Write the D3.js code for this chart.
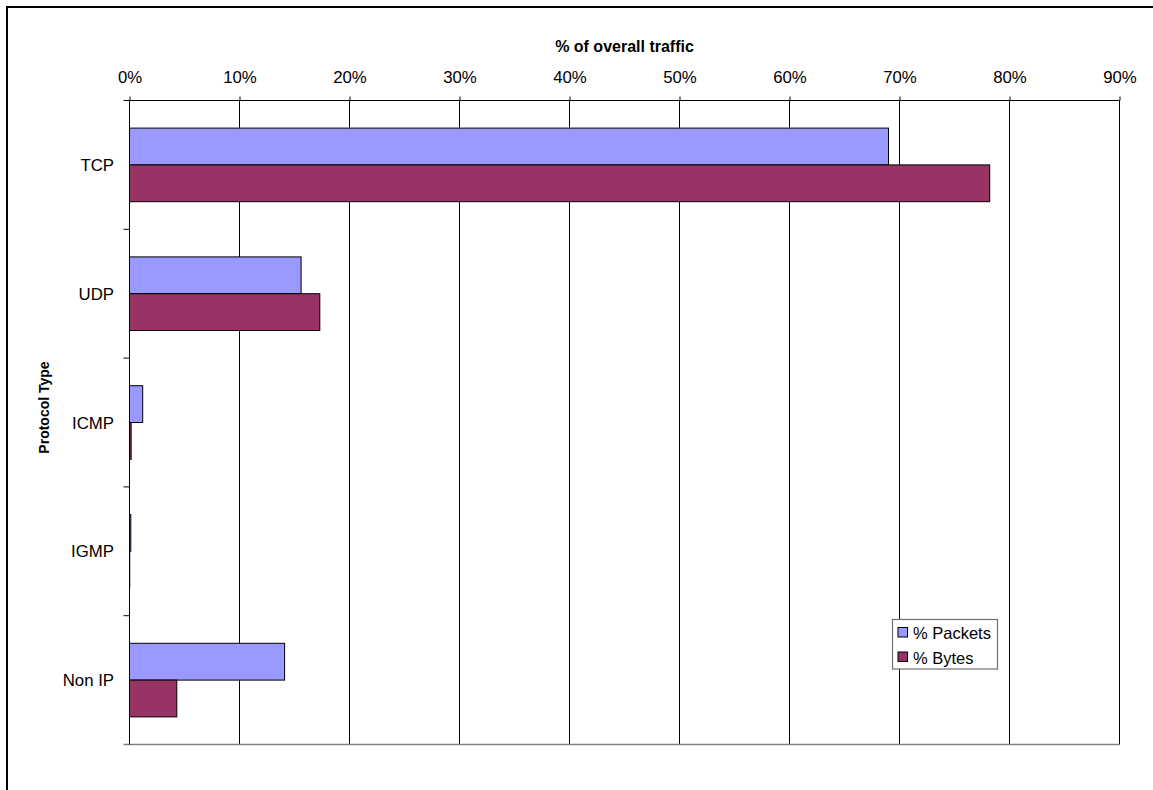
<!DOCTYPE html>
<html>
<head>
<meta charset="utf-8">
<script src="https://cdn.jsdelivr.net/npm/d3@7"></script>
<style>
  html, body { margin: 0; padding: 0; background: #fff; }
  svg { display: block; font-family: "Liberation Sans", Arial, sans-serif; }
</style>
</head>
<body>
<svg id="chart" width="1153" height="790"></svg>
<script>
// Share of traffic per protocol, in percent
const protocols = ["TCP", "UDP", "ICMP", "IGMP", "Non IP"];
const series = ["% Packets", "% Bytes"];
const packetsPct = [69.0, 15.6, 1.2, 0.12, 14.1];
const bytesPct = [78.2, 17.3, 0.15, 0.02, 4.3];
const xTicks = [0, 10, 20, 30, 40, 50, 60, 70, 80, 90];

const colors = { "% Packets": "#9999FF", "% Bytes": "#993366" };
const labelSize = "16.8px";

const rows = protocols.map((p, i) => ({
  protocol: p,
  values: [
    { key: series[0], value: packetsPct[i] },
    { key: series[1], value: bytesPct[i] }
  ]
}));

const svg = d3.select("#chart");

// outer chart frame
svg.append("rect")
  .attr("x", 7).attr("y", 7)
  .attr("width", 1300).attr("height", 1000)
  .attr("fill", "none").attr("stroke", "#000").attr("stroke-width", 2);

const plotLeft = 129.5, plotRight = 1119.5, plotTop = 100.5, plotBottom = 744.5;

const x = d3.scaleLinear().domain([0, 90]).range([plotLeft, plotRight]);
const y = d3.scaleBand().domain(protocols).range([plotTop, plotBottom]).paddingInner(0).paddingOuter(0);
const ySub = d3.scaleBand().domain(series).range([0, y.bandwidth()]).paddingInner(0).paddingOuter(0.75);

// vertical gridlines
svg.append("g").selectAll("line")
  .data(xTicks.slice(1))
  .join("line")
  .attr("x1", d => x(d)).attr("x2", d => x(d))
  .attr("y1", plotTop).attr("y2", plotBottom)
  .attr("stroke", "#000").attr("stroke-width", 1);

// bars
const groups = svg.append("g").selectAll("g")
  .data(rows)
  .join("g")
  .attr("transform", d => `translate(0,${y(d.protocol)})`);

groups.selectAll("rect")
  .data(d => d.values)
  .join("rect")
  .attr("x", x(0))
  .attr("y", d => ySub(d.key))
  .attr("width", d => Math.max(0, x(d.value) - x(0)))
  .attr("height", ySub.bandwidth())
  .attr("fill", d => colors[d.key])
  .attr("stroke", "#000")
  .attr("stroke-width", 1);

// plot area bottom border (grey)
svg.append("line")
  .attr("x1", plotLeft - 6).attr("x2", plotRight)
  .attr("y1", plotBottom).attr("y2", plotBottom)
  .attr("stroke", "#808080").attr("stroke-width", 1.5);

// top value axis
const xAxis = d3.axisTop(x)
  .tickValues(xTicks)
  .tickFormat(d => d + "%")
  .tickSize(4)
  .tickPadding(14)
  .tickSizeOuter(0);

const gx = svg.append("g").attr("transform", `translate(0,${plotTop})`).call(xAxis);
gx.select(".domain").attr("stroke", "#000").attr("d", `M${plotLeft - 6},0H${plotRight}`);
gx.selectAll(".tick line").attr("stroke", "#000");
gx.selectAll(".tick text")
  .attr("fill", "#000")
  .style("font-size", labelSize)
  .style("font-family", "'Liberation Sans', Arial, sans-serif");

// left category axis
svg.append("line")
  .attr("x1", plotLeft).attr("x2", plotLeft)
  .attr("y1", plotTop).attr("y2", plotBottom)
  .attr("stroke", "#000");

const boundaries = protocols.map(p => y(p));
svg.append("g").selectAll("line")
  .data(boundaries.slice(1))
  .join("line")
  .attr("x1", plotLeft - 6).attr("x2", plotLeft)
  .attr("y1", d => d).attr("y2", d => d)
  .attr("stroke", "#000");

svg.append("g").selectAll("text")
  .data(protocols)
  .join("text")
  .attr("x", 114)
  .attr("y", d => y(d) + y.bandwidth() / 2)
  .attr("dy", "0.36em")
  .attr("text-anchor", "end")
  .style("font-size", labelSize)
  .attr("fill", "#000")
  .text(d => d);

// axis titles
svg.append("text")
  .attr("x", (plotLeft + plotRight) / 2)
  .attr("y", 52)
  .attr("text-anchor", "middle")
  .style("font-size", "16px")
  .style("font-weight", "bold")
  .text("% of overall traffic");

svg.append("text")
  .attr("transform", `translate(49,${(plotTop + plotBottom) / 2 - 15}) rotate(-90)`)
  .attr("text-anchor", "middle")
  .style("font-size", "14px")
  .style("font-weight", "bold")
  .text("Protocol Type");

// legend
const legend = svg.append("g").attr("transform", "translate(892.5,619.5)");
legend.append("rect")
  .attr("width", 105).attr("height", 49.5)
  .attr("fill", "#fff").attr("stroke", "#707070").attr("stroke-width", 1.2);

const items = legend.selectAll("g.item")
  .data(series)
  .join("g")
  .attr("class", "item")
  .attr("transform", (d, i) => `translate(5.5,${8 + i * 24.5})`);

items.append("rect")
  .attr("width", 9.5).attr("height", 9.5)
  .attr("fill", d => colors[d])
  .attr("stroke", "#000");

items.append("text")
  .attr("x", 15)
  .attr("y", 11.5)
  .style("font-size", "16.5px")
  .attr("fill", "#000")
  .text(d => d);
</script>
</body>
</html>
